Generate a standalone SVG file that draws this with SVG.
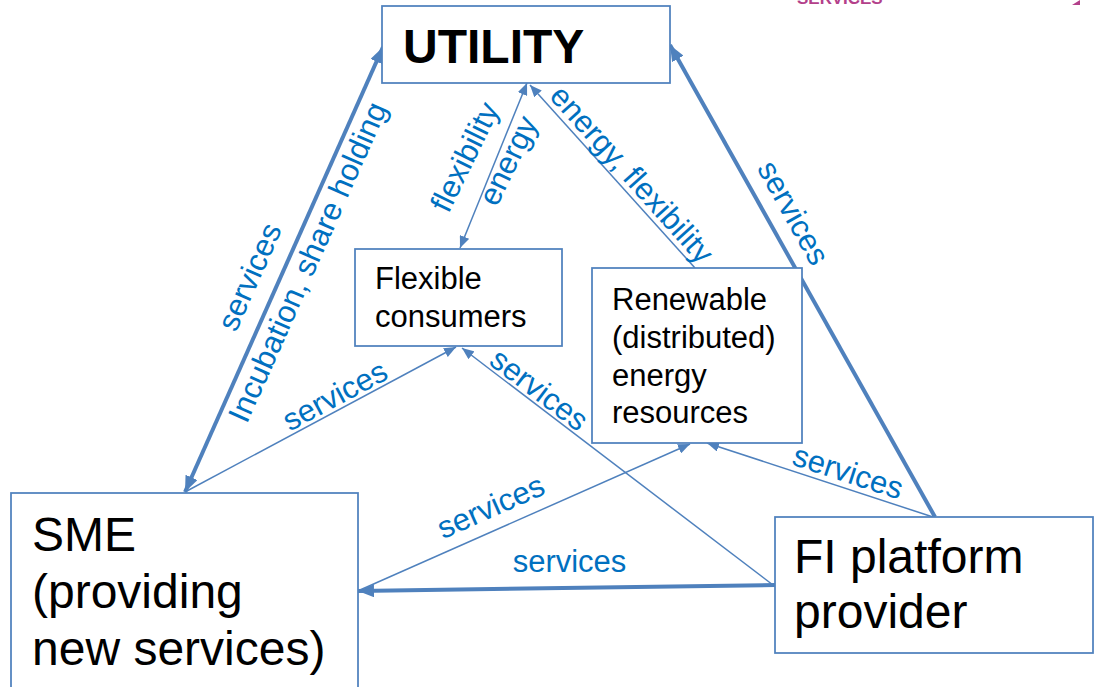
<svg xmlns="http://www.w3.org/2000/svg" width="1099" height="687" viewBox="0 0 1099 687">
<defs>
<style>
.box{fill:#fff;stroke:#4F81BD;stroke-width:1.75}
.ln{fill:none;stroke:#4F81BD;stroke-width:1.5}
.tk{fill:none;stroke:#4F81BD;stroke-width:4}
.nt{font-family:"Liberation Sans",Arial,sans-serif;fill:#000}
.lb{font-family:"Liberation Sans",Arial,sans-serif;font-size:31px;fill:#0070C0;text-anchor:middle}
</style>
<marker id="a" viewBox="0 0 12 10" refX="12" refY="5" markerWidth="12" markerHeight="10" markerUnits="userSpaceOnUse" orient="auto-start-reverse">
<path d="M0,0 L12,5 L0,10 z" fill="#4F81BD"/>
</marker>
<marker id="A" viewBox="0 0 16 13" refX="16" refY="6.5" markerWidth="16" markerHeight="13" markerUnits="userSpaceOnUse" orient="auto-start-reverse">
<path d="M0,0 L16,6.5 L0,13 z" fill="#4F81BD"/>
</marker>
</defs>
<rect width="1099" height="687" fill="#fff"/>
<text x="797" y="4" font-family="'Liberation Sans',Arial,sans-serif" font-weight="bold" font-size="17" fill="#B3408A">SERVICES</text>
<path d="M1072,5 L1080,0 L1080,5 z" fill="#B3408A"/>

<g id="connectors">
<line class="tk" x1="185" y1="492" x2="383" y2="47" marker-start="url(#A)" marker-end="url(#A)"/>
<line class="tk" x1="935" y1="517" x2="670" y2="45" marker-end="url(#A)"/>
<line class="tk" x1="775" y1="585" x2="358" y2="591" marker-end="url(#A)"/>
<line class="ln" x1="460" y1="248" x2="527" y2="83" marker-start="url(#a)" marker-end="url(#a)"/>
<line class="ln" x1="695" y1="268" x2="530" y2="85" marker-end="url(#a)"/>
<line class="ln" x1="185" y1="492" x2="456" y2="347" marker-end="url(#a)"/>
<line class="ln" x1="773" y1="585" x2="462" y2="348" marker-end="url(#a)"/>
<line class="ln" x1="360" y1="590" x2="690" y2="444" marker-end="url(#a)"/>
<line class="ln" x1="933" y1="517" x2="707" y2="443" marker-end="url(#a)"/>
<text class="lb" transform="translate(250,277) rotate(-66)" y="10">services</text>
<text class="lb" transform="translate(310,263) rotate(-66)" y="8">Incubation, share holding</text>
<text class="lb" transform="translate(467,158) rotate(-64)" y="8">flexibility</text>
<text class="lb" transform="translate(513,163) rotate(-64)" y="5">energy</text>
<text class="lb" transform="translate(630,176) rotate(48)" y="8">energy, flexibility</text>
<text class="lb" transform="translate(793,213) rotate(60.7)" y="10">services</text>
<text class="lb" transform="translate(335,396) rotate(-28.2)" y="10">services</text>
<text class="lb" transform="translate(539,390) rotate(37.3)" y="10">services</text>
<text class="lb" transform="translate(491,507) rotate(-23.9)" y="10">services</text>
<text class="lb" x="569.5" y="572">services</text>
<text class="lb" transform="translate(848,472.5) rotate(18.1)" y="10">services</text>
</g>

<g id="utility">
<rect class="box" x="382" y="6" width="288" height="77"/>
<text class="nt" x="403" y="63" font-size="48" font-weight="bold">UTILITY</text>
</g>
<g id="flexible-consumers">
<rect class="box" x="355" y="249" width="207" height="97"/>
<text class="nt" x="375" y="289" font-size="31">Flexible</text>
<text class="nt" x="375" y="327" font-size="31">consumers</text>
</g>
<g id="renewable">
<rect class="box" x="592" y="268" width="210" height="175"/>
<text class="nt" x="612" y="310" font-size="31">Renewable</text>
<text class="nt" x="612" y="348" font-size="31">(distributed)</text>
<text class="nt" x="612" y="386" font-size="31">energy</text>
<text class="nt" x="612" y="423" font-size="31">resources</text>
</g>
<g id="sme">
<rect class="box" x="11" y="493" width="347" height="200"/>
<text class="nt" x="32" y="551" font-size="48">SME</text>
<text class="nt" x="32" y="608" font-size="48">(providing</text>
<text class="nt" x="32" y="665" font-size="48">new services)</text>
</g>
<g id="fi-platform">
<rect class="box" x="775" y="517" width="318" height="136"/>
<text class="nt" x="794" y="573" font-size="48">FI platform</text>
<text class="nt" x="794" y="628" font-size="48">provider</text>
</g>
</svg>
